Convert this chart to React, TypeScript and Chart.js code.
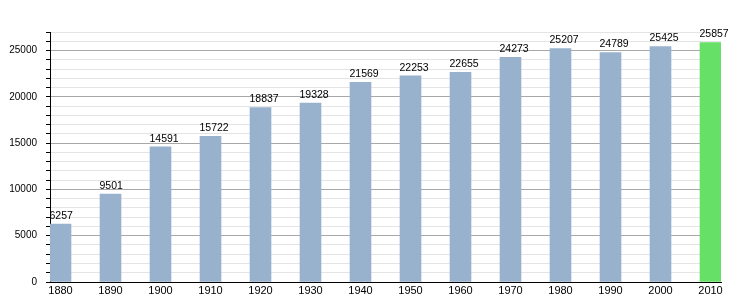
import React, { useEffect, useRef } from "react";
import { Chart, registerables } from "chart.js";

Chart.register(...registerables);

const years = [1880, 1890, 1900, 1910, 1920, 1930, 1940, 1950, 1960, 1970, 1980, 1990, 2000, 2010];
const population = [6257, 9501, 14591, 15722, 18837, 19328, 21569, 22253, 22655, 24273, 25207, 24789, 25425, 25857];
const highlightYear = 2010;

const BAR_COLOR = "#98b2cd";
const HIGHLIGHT_COLOR = "#66e066";
const FONT = "'Liberation Sans', Arial, Helvetica, sans-serif";

const valueLabels = {
  id: "valueLabels",
  afterDatasetsDraw(chart: any) {
    const ctx = chart.ctx;
    const meta = chart.getDatasetMeta(0);
    ctx.save();
    ctx.font = `10.5px ${FONT}`;
    ctx.fillStyle = "#000";
    ctx.textAlign = "left";
    ctx.textBaseline = "bottom";
    meta.data.forEach((bar: any, i: number) => {
      const left = bar.x - bar.width / 2;
      ctx.fillText(String(population[i]), left - 0.5, bar.y - 3);
    });
    ctx.restore();
  },
};

export default function App() {
  const ref = useRef<HTMLCanvasElement>(null);
  useEffect(() => {
    if (!ref.current) return;
    const barYears = 2.1;
    const chart = new Chart(ref.current, {
      type: "bar",
      data: {
        datasets: [
          {
            data: years.map((y, i) => ({ x: y, y: population[i] })),
            backgroundColor: years.map((y) => (y === highlightYear ? HIGHLIGHT_COLOR : BAR_COLOR)),
            barThickness: 21,
            borderWidth: 0,
          },
        ],
      },
      options: {
        animation: false,
        responsive: true,
        maintainAspectRatio: false,
        layout: { padding: { top: 32, right: 29, left: 0, bottom: 0 } },
        plugins: { legend: { display: false }, tooltip: { enabled: false } },
        scales: {
          x: {
            type: "linear",
            offset: false,
            min: years[0] - barYears,
            max: years[years.length - 1] + barYears,
            afterBuildTicks: (scale: any) => {
              scale.ticks = years.map((v) => ({ value: v }));
            },
            afterFit: (scale: any) => {
              scale.height = 18;
            },
            grid: { display: false, drawTicks: false, offset: false },
            border: { color: "#000", width: 1 },
            ticks: {
              color: "#000",
              font: { family: FONT, size: 11 },
              padding: 2,
              maxRotation: 0,
              autoSkip: false,
              callback: (v: any) => String(v),
            },
          },
          y: {
            min: 0,
            max: 27000,
            afterFit: (scale: any) => {
              scale.width = 50;
            },
            grid: {
              color: (c: any) => (c.tick && c.tick.value % 5000 === 0 ? "#a8a8a8" : "#e4e4e4"),
              tickColor: "#000",
              tickLength: 4,
            },
            border: { color: "#000", width: 1 },
            ticks: {
              stepSize: 1000,
              color: "#000",
              font: { family: FONT, size: 10 },
              padding: 9,
              autoSkip: false,
              callback: (v: any) => (Number(v) % 5000 === 0 ? String(v) : ""),
            },
          },
        },
      },
      plugins: [valueLabels],
    });
    return () => chart.destroy();
  }, []);
  return (
    <div style={{ position: "fixed", left: 0, top: 0, width: 750, height: 300, background: "#fff" }}>
      <canvas ref={ref} />
    </div>
  );
}
